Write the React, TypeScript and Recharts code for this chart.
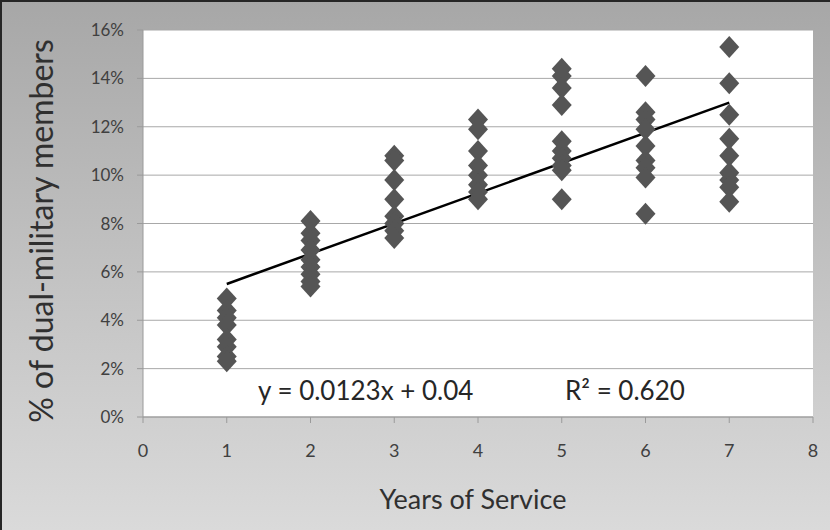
import React from 'react';
import { ScatterChart, Scatter, CartesianGrid, XAxis, YAxis, ReferenceLine, Label } from 'recharts';

// % of dual-military members, one list per year of service
const years = [1, 2, 3, 4, 5, 6, 7];
const year1 = [4.9, 4.4, 4.1, 3.8, 3.2, 2.9, 2.5, 2.3];
const year2 = [8.1, 7.6, 7.3, 6.9, 6.5, 6.2, 5.9, 5.6, 5.4];
const year3 = [10.8, 10.6, 9.8, 9.0, 8.3, 8.0, 7.7, 7.4];
const year4 = [12.3, 11.9, 11.0, 10.4, 10.0, 9.6, 9.3, 9.0];
const year5 = [14.4, 14.1, 13.6, 12.9, 11.4, 11.0, 10.7, 10.4, 10.2, 9.0];
const year6 = [14.1, 12.6, 12.3, 11.9, 11.2, 10.6, 10.3, 9.9, 8.4];
const year7 = [15.3, 13.8, 12.5, 11.5, 10.8, 10.1, 9.8, 9.5, 8.9];

const xTicks = [0, 1, 2, 3, 4, 5, 6, 7, 8];
const yTicks = [0, 2, 4, 6, 8, 10, 12, 14, 16];

// trend line end points as drawn
const trendX = [1, 7];
const trendY = [5.5, 13.0];

const equation = 'y = 0.0123x + 0.04';
const rSquared = 'R² = 0.620';

const columns = [year1, year2, year3, year4, year5, year6, year7];
const points = columns.flatMap((vals, i) => vals.map((v) => ({ x: years[i], y: v })));

const font = 'Lato, "Open Sans", sans-serif';

const Diamond = (props: any) => {
  const { cx, cy } = props;
  if (cx == null || cy == null) return null;
  return (
    <path
      d={`M${cx},${cy - 11}L${cx + 10},${cy}L${cx},${cy + 11}L${cx - 10},${cy}Z`}
      fill="#555555"
      filter="url(#soft)"
    />
  );
};

export default function App() {
  return (
    <div
      style={{
        position: 'absolute',
        left: 0,
        top: 0,
        width: 830,
        height: 530,
        background: 'linear-gradient(180deg, #a7a7a7 0%, #c4c4c4 55%, #dadada 100%)',
        boxShadow: 'inset 2px 2px 0 #262626',
        fontFamily: font,
      }}
    >
      <ScatterChart width={830} height={530} margin={{ top: 30, right: 17, left: 0, bottom: 0 }}>
        <defs>
          <filter id="soft" x="-20%" y="-20%" width="140%" height="140%">
            <feGaussianBlur stdDeviation="0.7" />
          </filter>
        </defs>
        <CartesianGrid vertical={false} stroke="#a8a8a8" fill="#ffffff" fillOpacity={1} />
        <XAxis
          type="number"
          dataKey="x"
          domain={[0, 8]}
          ticks={xTicks}
          height={113}
          stroke="#9a9a9a"
          tickSize={6}
          tickMargin={21}
          tick={{ fill: '#404040', fontSize: 18, fontFamily: font }}
        >
          <Label
            content={(p: any) => {
              const vb = p.viewBox;
              return (
                <text x={vb.x + vb.width / 2 - 5} y={509} textAnchor="middle" fill="#303030" fontSize={27} fontFamily={font}>
                  Years of Service
                </text>
              );
            }}
          />
        </XAxis>
        <YAxis
          type="number"
          dataKey="y"
          domain={[0, 16]}
          ticks={yTicks}
          width={143}
          stroke="#9a9a9a"
          tickSize={6}
          tickMargin={13}
          tickFormatter={(v: number) => `${v}%`}
          tick={{ fill: '#404040', fontSize: 17, fontFamily: font }}
        >
          <Label
            content={() => (
              <text
                x={53}
                y={231}
                transform="rotate(-90 53 231)"
                textAnchor="middle"
                fill="#303030"
                fontSize={32}
                fontFamily={font}
              >
                % of dual-military members
              </text>
            )}
          />
        </YAxis>
        <Scatter data={points} shape={Diamond} isAnimationActive={false} />
        <ReferenceLine
          segment={[
            { x: trendX[0], y: trendY[0] },
            { x: trendX[1], y: trendY[1] },
          ]}
          stroke="#000000"
          strokeWidth={2.5}
        />
      </ScatterChart>
      <svg width={830} height={530} style={{ position: 'absolute', left: 0, top: 0, pointerEvents: 'none' }}>
        <text x={258} y={400} fontSize={26} fill="#262626" fontFamily={font}>
          {equation}
        </text>
        <text x={565} y={400} fontSize={26} fill="#262626" fontFamily={font}>
          {rSquared}
        </text>
      </svg>
    </div>
  );
}
